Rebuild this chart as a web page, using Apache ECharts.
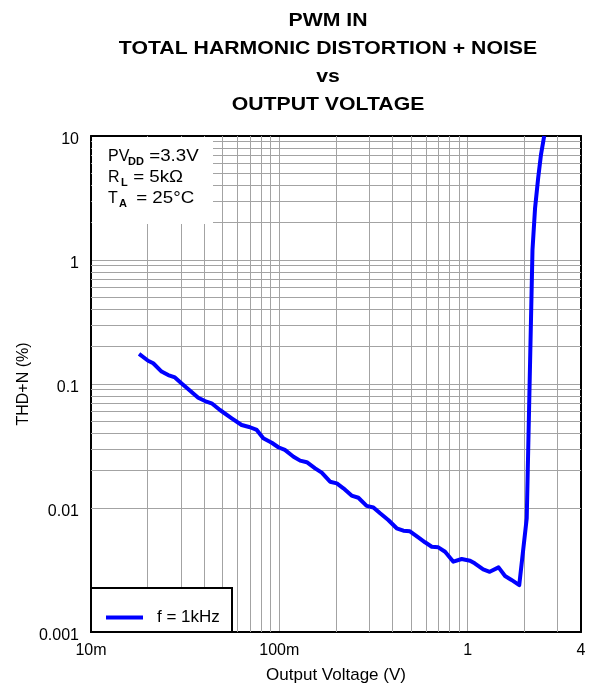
<!DOCTYPE html>
<html>
<head>
<meta charset="utf-8">
<script src="https://cdn.jsdelivr.net/npm/echarts@6/dist/echarts.min.js"></script>
<style>html,body{margin:0;padding:0;background:#fff}#c{width:595px;height:685px}</style>
</head>
<body>
<div id="c"></div>
<script>
// Output voltage (V)
var voltage = [0.018,0.0201,0.0214,0.0237,0.0257,0.0279,0.0303,0.0336,0.0371,0.0403,0.0437,0.0484,0.0559,0.0631,0.0699,0.0759,0.0822,0.0912,0.0988,0.107,0.119,0.129,0.140,0.155,0.168,0.186,0.202,0.219,0.242,0.263,0.291,0.316,0.343,0.379,0.420,0.456,0.494,0.547,0.594,0.645,0.699,0.759,0.840,0.930,1.03,1.09,1.21,1.31,1.46,1.58,1.71,1.88,2.06,2.21,2.28,2.37,2.45,2.55];
// THD+N (%)
var thdn = [0.175,0.154,0.147,0.126,0.118,0.113,0.101,0.0883,0.0775,0.0729,0.0699,0.0617,0.0529,0.0467,0.0448,0.0426,0.0365,0.0336,0.0309,0.0294,0.0259,0.0241,0.0234,0.0209,0.0193,0.0163,0.0158,0.0144,0.0126,0.0121,0.0104,0.0101,0.00906,0.0080,0.00686,0.00656,0.00649,0.00580,0.00529,0.00487,0.00482,0.00444,0.00369,0.00388,0.00376,0.00358,0.00320,0.00306,0.00332,0.00283,0.00263,0.00239,0.00826,1.2,2.6,4.6,7.0,10];
var seriesName = 'f = 1kHz';
// minor grid positions
var xMinor = [0.02,0.03,0.04,0.05,0.06,0.07,0.08,0.09,0.2,0.3,0.4,0.5,0.6,0.7,0.8,0.9,2,3];
var yMinor = [0.002,0.003,0.004,0.005,0.006,0.007,0.008,0.009,0.02,0.03,0.04,0.05,0.06,0.07,0.08,0.09,0.2,0.3,0.4,0.5,0.6,0.7,0.8,0.9,2,3,4,5,6,7,8,9];
var xLabels = {'0.01':'10m','0.1':'100m','1':'1','4':'4'};
var titleLines = ['PWM IN','TOTAL HARMONIC DISTORTION + NOISE','vs','OUTPUT VOLTAGE'];
// annotation fragments: [text, sub, rest]
var notes = [['PV','DD',' =3.3V'],['R','L',' = 5k\u03A9'],['T','A',' = 25\u00B0C']];

var FONT = 'Liberation Sans, Arial, Helvetica, sans-serif';
var GRIDC = '#a3a3a3';
var chart = echarts.init(document.getElementById('c'), null, {renderer:'canvas'});
var pts = voltage.map(function(v,i){return [v, thdn[i]];});
var minorData = xMinor.map(function(v){return {xAxis:v};}).concat(yMinor.map(function(v){return {yAxis:v};}));

function fmtY(v){var n=Number(Number(v).toPrecision(1));return String(n);}
function fmtX(v){var k=String(Number(Number(v).toPrecision(1)));return xLabels[k]!==undefined?xLabels[k]:k;}

// annotation layout (pixel positions of text pieces)
var noteX = [[108,128,144],[108,121,128],[108,119,131]];
var noteY = [157,177.5,199];
var graphics = [
  {type:'rect',z:100,shape:{x:92,y:137,width:121,height:87},style:{fill:'#fff'}},
  {type:'rect',z:100,shape:{x:91,y:588,width:141,height:44},style:{fill:'#fff',stroke:'#000',lineWidth:2}},
  {type:'text',z:110,x:328,y:7,scaleX:1.18,style:{text:titleLines.join('\n'),
    align:'center',verticalAlign:'top',font:'bold 18px '+FONT,lineHeight:28,fill:'#000'}}
];
notes.forEach(function(n,i){
  graphics.push({type:'text',z:110,x:noteX[i][0],y:noteY[i],style:{text:n[0],font:'16px '+FONT,fill:'#000',verticalAlign:'middle'}});
  graphics.push({type:'text',z:110,x:noteX[i][1],y:noteY[i]+5,style:{text:n[1],font:'bold 11px '+FONT,fill:'#000',verticalAlign:'middle'}});
  graphics.push({type:'text',z:110,x:noteX[i][2],y:noteY[i],scaleX:1.17,style:{text:n[2],font:'16px '+FONT,fill:'#000',verticalAlign:'middle'}});
});

chart.setOption({
  animation:false,
  backgroundColor:'#fff',
  textStyle:{fontFamily:FONT},
  grid:{left:91,top:136,width:490,height:496,containLabel:false,outerBoundsMode:'none'},
  xAxis:[{
    type:'log',logBase:10,min:0.01,max:4,
    name:'Output Voltage (V)',nameLocation:'middle',nameGap:35,nameMoveOverlap:false,
    nameTextStyle:{fontSize:17,color:'#000',fontFamily:FONT},
    axisLine:{show:true,onZero:false,lineStyle:{color:'#000',width:2}},
    axisTick:{show:false},
    axisLabel:{formatter:fmtX,fontSize:16,color:'#000',margin:11,fontFamily:FONT,showMinLabel:true,showMaxLabel:true},
    splitLine:{show:true,lineStyle:{color:GRIDC,width:1}},
    minorTick:{show:false},minorSplitLine:{show:false}
  },{
    type:'log',logBase:10,min:0.01,max:4,position:'top',
    axisLine:{show:true,onZero:false,lineStyle:{color:'#000',width:2}},
    axisTick:{show:false},axisLabel:{show:false},splitLine:{show:false}
  }],
  yAxis:[{
    type:'log',logBase:10,min:0.001,max:10,
    name:'THD+N (%)',nameLocation:'middle',nameGap:59,nameMoveOverlap:false,
    nameTextStyle:{fontSize:16,color:'#000',fontFamily:FONT},
    axisLine:{show:true,onZero:false,lineStyle:{color:'#000',width:2}},
    axisTick:{show:false},
    axisLabel:{formatter:fmtY,fontSize:16,color:'#000',margin:12,fontFamily:FONT,verticalAlign:'top',lineHeight:8},
    splitLine:{show:true,lineStyle:{color:GRIDC,width:1}}
  },{
    type:'log',logBase:10,min:0.001,max:10,position:'right',
    axisLine:{show:true,onZero:false,lineStyle:{color:'#000',width:2}},
    axisTick:{show:false},axisLabel:{show:false},splitLine:{show:false}
  }],
  legend:{
    data:[seriesName],left:106,top:609,padding:0,z:120,
    icon:'rect',itemWidth:37,itemHeight:4,
    textStyle:{fontSize:17,color:'#000',fontFamily:FONT,padding:[0,0,0,9]},
    backgroundColor:'transparent'
  },
  series:[{
    name:'grid-minor',type:'line',data:[],z:1,silent:true,
    markLine:{silent:true,symbol:['none','none'],label:{show:false},animation:false,
      lineStyle:{type:'solid',color:GRIDC,width:1},emphasis:{disabled:true},data:minorData}
  },{
    name:seriesName,type:'line',data:pts,z:5,
    showSymbol:false,symbol:'none',smooth:false,
    lineStyle:{color:'#0000ff',width:4,join:'round'},itemStyle:{color:'#0000ff'}
  }],
  graphic:graphics
});
</script>
</body>
</html>
